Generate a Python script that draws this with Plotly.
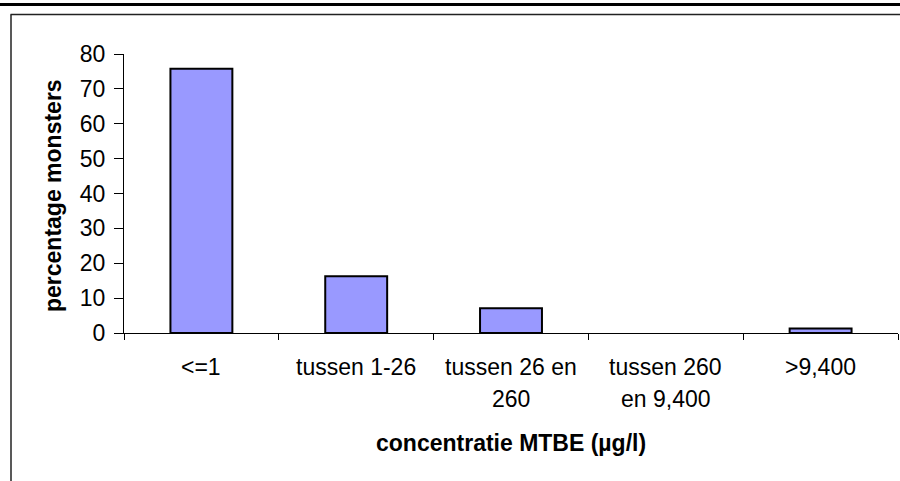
import plotly.graph_objects as go

# categorieën en waarden (percentage monsters per concentratieklasse)
categorieen = ["<=1", "tussen 1-26", "tussen 26 en 260", "tussen 260 en 9,400", ">9,400"]
label_regel1 = ["<=1", "tussen 1-26", "tussen 26 en", "tussen 260", ">9,400"]
label_regel2 = ["", "", "260", "en 9,400", ""]
percentages = [75.8, 16.3, 7.1, 0.0, 1.3]
y_ticks = [0, 10, 20, 30, 40, 50, 60, 70, 80]

FONT = "Liberation Sans, Arial, sans-serif"
FS = 23
W, H = 900, 481
L, R, T, B = 124, 2, 54, 148
PH = H - T - B
PW = W - L - R


def px_x(px):
    return (px - L) / PW


def px_y(py):
    return (H - B - py) / PH


fig = go.Figure()
fig.add_trace(go.Bar(
    x=list(range(len(categorieen))), y=percentages, width=0.4,
    marker=dict(color="#9999FF",
                line=dict(color="black", width=[2 if v > 0 else 0 for v in percentages])),
    hovertext=categorieen,
))

for i, (a, b) in enumerate(zip(label_regel1, label_regel2)):
    fig.add_annotation(x=i, y=px_y(367), xref="x", yref="paper", text=a,
                       showarrow=False, yanchor="middle",
                       font=dict(family=FONT, size=FS, color="black"))
    if b:
        fig.add_annotation(x=i, y=px_y(399), xref="x", yref="paper", text=b,
                           showarrow=False, yanchor="middle",
                           font=dict(family=FONT, size=FS, color="black"))

fig.add_annotation(x=0.5, y=px_y(443), xref="paper", yref="paper",
                   text="<b>concentratie MTBE (µg/l)</b>", showarrow=False,
                   yanchor="middle", font=dict(family=FONT, size=FS, color="black"))
fig.add_annotation(x=px_x(53), y=px_y(196), xref="paper", yref="paper",
                   text="<b>percentage monsters</b>", showarrow=False, textangle=-90,
                   xanchor="center", yanchor="middle",
                   font=dict(family=FONT, size=FS, color="black"))

# kaderlijnen
fig.add_shape(type="line", xref="paper", yref="paper", x0=px_x(0), x1=px_x(900),
              y0=px_y(4.5), y1=px_y(4.5), line=dict(color="black", width=3))
fig.add_shape(type="line", xref="paper", yref="paper", x0=px_x(10.5), x1=px_x(900),
              y0=px_y(14.5), y1=px_y(14.5), line=dict(color="#222222", width=1.5))
fig.add_shape(type="line", xref="paper", yref="paper", x0=px_x(11), x1=px_x(11),
              y0=px_y(14.5), y1=px_y(481), line=dict(color="#222222", width=1.5))

fig.update_layout(
    width=W, height=H,
    margin=dict(l=L, r=R, t=T, b=B),
    paper_bgcolor="white", plot_bgcolor="white",
    showlegend=False,
    xaxis=dict(range=[-0.5, len(categorieen) - 0.5], tickmode="array",
               tickvals=[i - 0.5 for i in range(len(categorieen) + 1)],
               showticklabels=False, ticks="outside", ticklen=6, tickcolor="black",
               showline=True, linecolor="black", linewidth=1, showgrid=False,
               zeroline=False),
    yaxis=dict(range=[0, 80], tickvals=y_ticks, ticks="outside", ticklen=9,
               tickcolor="black", showline=True, linecolor="black", linewidth=1,
               showgrid=False, zeroline=False, ticklabelstandoff=4,
               tickfont=dict(family=FONT, size=FS, color="black")),
)

fig.write_html("out.html", config={"displayModeBar": False},
               post_script="document.body.style.margin='0';")
